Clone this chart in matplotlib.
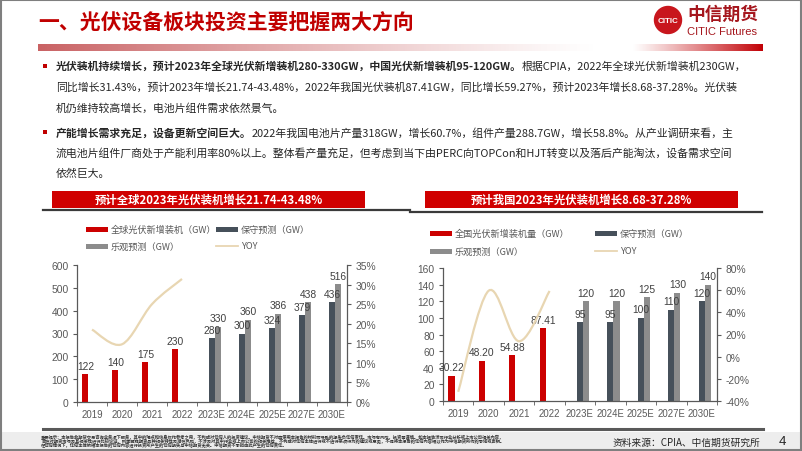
import numpy as np
import matplotlib
matplotlib.use('Agg')
import matplotlib.pyplot as plt
from matplotlib.path import Path
from matplotlib.patches import PathPatch, Rectangle, Circle

CJK = ['Noto Sans CJK SC', 'DejaVu Sans']
LAT = ['Liberation Sans', 'DejaVu Sans']
plt.rcParams['font.family'] = CJK

W, H = 802, 452
RED = '#CC0000'
DARK = '#46505A'
GRAY = '#8C8C8C'
YOYC = '#E8D6B2'
TXT = '#404040'

# ---- data ----
years = ['2019', '2020', '2021', '2022', '2023E', '2024E', '2025E', '2027E', '2030E']

global_actual = [122, 140, 175, 230]
global_conservative = [280, 300, 324, 379, 436]
global_optimistic = [330, 360, 386, 438, 516]
global_yoy = [18.5, 14.75, 25.0, 31.43]

china_actual = [30.22, 48.20, 54.88, 87.41]
china_conservative = [95, 95, 100, 110, 120]
china_optimistic = [120, 120, 125, 130, 140]
china_yoy = [-31.7, 59.5, 13.9, 59.27]

para1 = [
    [('光伏装机持续增长，预计2023年全球光伏新增装机280-330GW，中国光伏新增装机95-120GW。', True),
     ('根据CPIA，2022年全球光伏新增装机230GW，', False)],
    [('同比增长31.43%，预计2023年增长21.74-43.48%，2022年我国光伏装机87.41GW，同比增长59.27%，预计2023年增长8.68-37.28%。光伏装', False)],
    [('机仍维持较高增长，电池片组件需求依然景气。', False)],
]
para2 = [
    [('产能增长需求充足，设备更新空间巨大。', True),
     ('2022年我国电池片产量318GW，增长60.7%，组件产量288.7GW，增长58.8%。从产业调研来看，主', False)],
    [('流电池片组件厂商处于产能利用率80%以上。整体看产量充足，但考虑到当下由PERC向TOPCon和HJT转变以及落后产能淘汰，设备需求空间', False)],
    [('依然巨大。', False)],
]

disclaimer = [
    '重要提示：本报告非期货交易咨询业务项下服务，其中的观点和信息仅作参考之用，不构成对任何人的投资建议。中信期货不对因使用本报告的材料而导致的损失负任何责任。市场有风险，投资需谨慎。如本报告涉及行业分析或上市公司相关内容，',
    '旨在对期货市场及其相关性进行比较论证，列举解释期货品种相关特性及潜在风险，不涉及对其中行业或上市公司的相关推荐，不构成对任何主体进行或不进行某项行为的建议或意见，不得将本报告的任何内容据以作为中信期货所作的承诺或声明。',
    '在任何情况下，任何主体依据本报告的任何内容进行投资所产生的任何损失与中信期货无关。中信期货不承担由此产生的任何责任。',
]


def px_axes(fig, x0, y0, x1, y1):
    return fig.add_axes([x0 / W, 1 - y1 / H, (x1 - x0) / W, (y1 - y0) / H])


def smooth_path(xs, ys):
    pts = np.column_stack([xs, ys]).astype(float)
    n = len(pts)
    verts = [pts[0]]
    codes = [Path.MOVETO]
    for i in range(n - 1):
        p0 = pts[i - 1] if i > 0 else pts[i]
        p1, p2 = pts[i], pts[i + 1]
        p3 = pts[i + 2] if i + 2 < n else pts[i + 1]
        verts += [p1 + (p2 - p0) / 6, p2 - (p3 - p1) / 6, p2]
        codes += [Path.CURVE4] * 3
    return Path(verts, codes)


def style_labels(labels, size):
    for lab in labels:
        lab.set_family(LAT)
        lab.set_fontsize(size)
        lab.set_color('#595959')


def draw_chart(ax, actual, cons, opt, yoy, ymax, ystep, y2lim, y2step, fmt):
    x = np.arange(len(years))
    xa = x[:len(actual)]
    xf = x[len(actual):]
    ax.bar(xa - 0.22, actual, width=0.2, color=RED, zorder=2)
    ax.bar(xf, cons, width=0.2, color=DARK, zorder=2)
    ax.bar(xf + 0.2, opt, width=0.2, color=GRAY, zorder=2)
    labelled = list(zip(xa - 0.22, actual, [fmt(v) for v in actual]))
    labelled += list(zip(xf, cons, [f'{v:g}' for v in cons]))
    labelled += list(zip(xf + 0.2, opt, [f'{v:g}' for v in opt]))
    for xi, v, s in labelled:
        ax.annotate(s, (xi, v), xytext=(0, 2.5), textcoords='offset points',
                    ha='center', va='bottom', fontsize=7.4, color=TXT, family=LAT, zorder=5)
    ax.set_xlim(-0.5, len(years) - 0.5)
    ax.set_ylim(0, ymax)
    ax.set_yticks(np.arange(0, ymax + 1, ystep))
    ax.set_xticks(x)
    ax.set_xticklabels(years)
    ax.set_xticks(np.arange(-0.5, len(years), 1), minor=True)
    ax.tick_params(axis='x', which='major', length=0, pad=5)
    ax.tick_params(axis='x', which='minor', length=3, color='#595959', direction='out')
    ax.tick_params(axis='y', length=3, color='#595959', direction='out', pad=3)
    style_labels(ax.get_xticklabels(), 6.9)
    style_labels(ax.get_yticklabels(), 7.4)
    for s in ['top', 'right']:
        ax.spines[s].set_visible(False)
    for s in ['left', 'bottom']:
        ax.spines[s].set_color('#595959')
        ax.spines[s].set_linewidth(0.9)
    ax.patch.set_alpha(0)

    ax2 = ax.twinx()
    ax2.set_ylim(*y2lim)
    ax2.set_yticks(np.arange(y2lim[0], y2lim[1] + 1, y2step))
    ax2.set_yticklabels([f'{v:.0f}%' for v in ax2.get_yticks()])
    ax2.add_patch(PathPatch(smooth_path(xa, yoy), fill=False, edgecolor=YOYC, lw=1.6, zorder=3))
    ax2.tick_params(axis='y', length=3, color='#595959', direction='out', pad=3)
    style_labels(ax2.get_yticklabels(), 7.4)
    for s in ['top', 'left', 'bottom']:
        ax2.spines[s].set_visible(False)
    ax2.spines['right'].set_color('#595959')
    ax2.spines['right'].set_linewidth(0.9)


def draw_legend(bg, x0, x1, y0, y1, first_label):
    items = [(x0, y0, 'bar', RED, first_label), (x1, y0, 'bar', DARK, '保守预测（GW）'),
             (x0, y1, 'bar', GRAY, '乐观预测（GW）'), (x1, y1, 'line', YOYC, 'YOY')]
    for lx, ly, kind, c, lab in items:
        if kind == 'bar':
            bg.add_patch(Rectangle((lx, ly - 2.5), 22, 5, color=c, lw=0))
        else:
            bg.plot([lx, lx + 22], [ly, ly], color=c, lw=1.3)
        bg.text(lx + 25, ly, lab, fontsize=6.6, color='#595959', va='center', ha='left')


def draw_runs(fig, bg, x, y, runs, size):
    r = fig.canvas.get_renderer()
    for txt, bold in runs:
        t = bg.text(x, y, txt, fontsize=size, color='#262626', va='center', ha='left',
                    fontweight='bold' if bold else 'normal')
        x += t.get_window_extent(renderer=r).width


fig = plt.figure(figsize=(W / 100, H / 100), dpi=100)
bg = fig.add_axes([0, 0, 1, 1])
bg.set_xlim(0, W)
bg.set_ylim(H, 0)
bg.axis('off')

# slide frame and footer
bg.add_patch(Rectangle((0, 433), W, 19, color='#EDEDED', lw=0))
bg.add_patch(Rectangle((0.8, 0.8), W - 1.6, H - 1.6, fill=False, edgecolor='#7F7F7F', lw=1.5))

# title
bg.text(38, 23, '一、光伏设备板块投资主要把握两大方向', fontsize=15, fontweight='bold',
        color='#C00000', va='center', ha='left')

# logo
bg.add_patch(Circle((668, 21), 13.5, color='#C8161D'))
bg.text(668, 21.5, 'CITIC', fontsize=5.8, fontweight='bold', color='white', ha='center', va='center',
        family=['Liberation Sans Narrow', 'Liberation Sans'])
bg.text(687, 15, '中信期货', fontsize=12.8, fontweight='bold', color='#A5161D', ha='left', va='center')
bg.text(687, 32, 'CITIC Futures', fontsize=8, color='#A5161D', ha='left', va='center',
        family=['Liberation Sans Narrow', 'Liberation Sans'])

# gradient bars under the title
gl = np.linspace(0, 1, 256)
left_grad = np.zeros((1, 256, 4))
left_grad[0, :, 0] = 0.78
left_grad[0, :, 1] = 0.35
left_grad[0, :, 2] = 0.36
left_grad[0, :, 3] = (1 - gl) ** 1.2 * 0.95
bg.imshow(left_grad, extent=(38, 600, 52, 45), aspect='auto', zorder=1)
right_grad = np.zeros((1, 256, 4))
right_grad[0, :, 0] = 0.76
right_grad[0, :, 1] = 0.0
right_grad[0, :, 2] = 0.02
right_grad[0, :, 3] = gl ** 1.1
bg.imshow(right_grad, extent=(632, 763, 52, 45), aspect='auto', zorder=1)
bg.set_xlim(0, W)
bg.set_ylim(H, 0)

# bullet paragraphs
line_gap = 20.5
for y_start, para in [(67, para1), (133, para2)]:
    bg.add_patch(Rectangle((42.5, y_start - 2.5), 4.5, 4.5, color='#C00000', lw=0))
    for i, runs in enumerate(para):
        draw_runs(fig, bg, 56, y_start + i * line_gap, runs, 7.85)

# chart headers
for bx0, bx1, lx0, lx1, ly, title in [
        (52, 365, 43, 410, 211, '预计全球2023年光伏装机增长21.74-43.48%'),
        (425, 738, 410, 762, 213, '预计我国2023年光伏装机增长8.68-37.28%')]:
    bg.add_patch(Rectangle((bx0, 192), bx1 - bx0, 17, color='#D00000', lw=0))
    bg.text((bx0 + bx1) / 2, 200.5, title, fontsize=8.2, fontweight='bold', color='white',
            ha='center', va='center')
    bg.plot([lx0, lx1], [ly, ly], color='#3A3A3A', lw=1.6)

draw_legend(bg, 86, 216, 230, 247, '全球光伏新增装机（GW）')
draw_legend(bg, 430, 595, 234, 252, '全国光伏新增装机量（GW）')

# charts
ax_l = px_axes(fig, 77, 266, 347, 403)
draw_chart(ax_l, global_actual, global_conservative, global_optimistic, global_yoy,
           600, 100, (0, 35), 5, lambda v: f'{v:g}')
ax_r = px_axes(fig, 443, 269, 717, 402)
draw_chart(ax_r, china_actual, china_conservative, china_optimistic, china_yoy,
           160, 20, (-40, 80), 20, lambda v: f'{v:.2f}')

# footer
bg.plot([43, 763], [430, 430], color='#595959', lw=2.2)
for i, line in enumerate(disclaimer):
    bg.text(41, 437.5 + i * 4.3, line, fontsize=3.1, color='#333333', ha='left', va='center',
            fontweight='bold')
bg.text(760, 443, '资料来源：CPIA、中信期货研究所', fontsize=7, color='#262626', ha='right', va='center')
bg.text(782, 442.5, '4', fontsize=9.5, color='#262626', ha='center', va='center', family=LAT)

fig.savefig('out.png', dpi=100)
